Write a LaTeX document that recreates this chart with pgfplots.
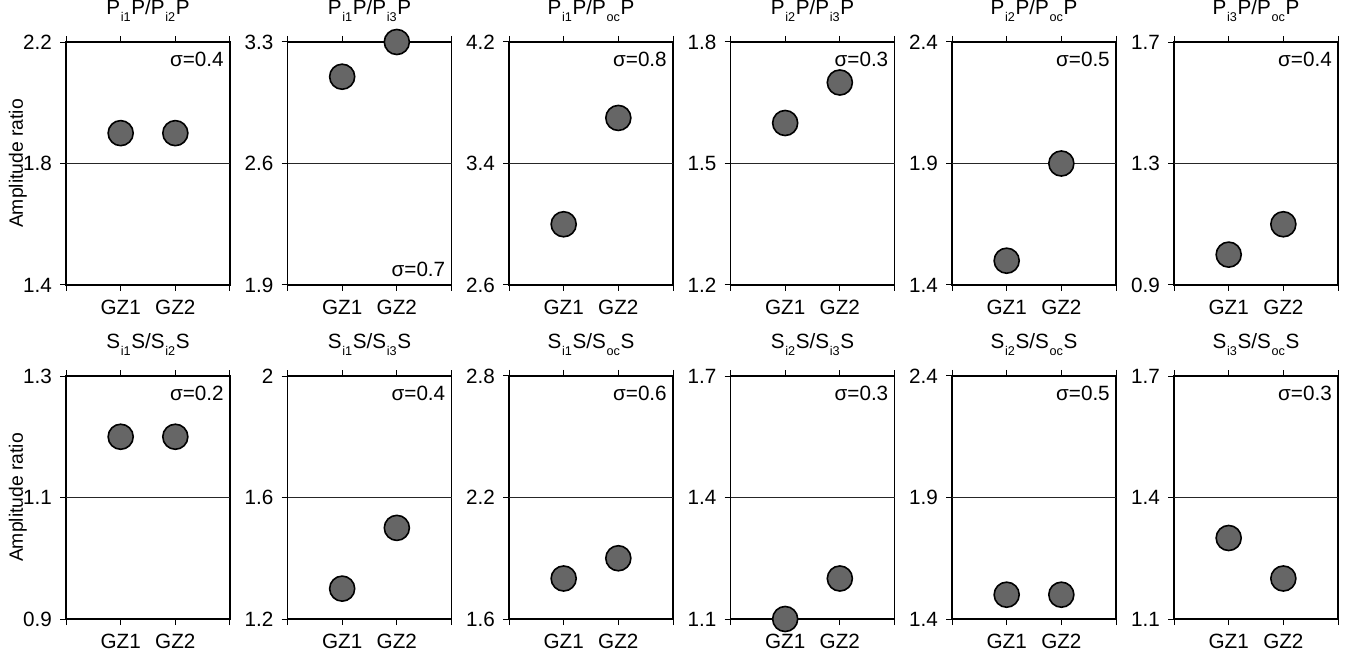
\documentclass[border=0pt]{standalone}
\usepackage{fontspec}
\setmainfont{Liberation Sans}
\usepackage{pgfplots}
\pgfplotsset{compat=1.18}
\newcommand{\sub}[1]{\hspace{0.5pt}\raisebox{-4.8pt}{\fontsize{9.5}{10}\selectfont #1}\hspace{0.5pt}}
\definecolor{dotgray}{RGB}{102,102,102}
\tikzset{
  sig/.style={anchor=north east, inner sep=0pt, xshift=-4.5pt, yshift=-7pt, font=\fontsize{15.5}{18}\selectfont},
  sigb/.style={anchor=south east, inner sep=0pt, xshift=-4.5pt, yshift=6pt, font=\fontsize{15.5}{18}\selectfont},
  ylab/.style={rotate=90, anchor=center, font=\fontsize{14.5}{17}\selectfont},
}
\pgfplotsset{
  panel/.style={
    scale only axis, width=123pt, height=182.25pt,
    xmin=0, xmax=3, xtick={0,1,2,3}, xticklabels={,GZ1,GZ2,},
    xtick pos=both, xticklabel pos=lower, ytick pos=left,
    tick align=outside, major tick length=4.5pt,
    tick style={line width=0.75pt, black},
    axis line style={line width=1.1pt},
    /pgf/number format/assume math mode=true,
    ticklabel style={font=\fontsize{15.5}{18}\selectfont},
    yticklabel style={xshift=-2.5pt},
    xticklabel style={yshift=-3pt},
    title style={at={(rel axis cs:0.5,1)}, anchor=base, yshift=14.5pt, font=\fontsize{15.5}{18}\selectfont},
    clip=false,
  },
  refline/.style={line width=0.6pt, black!85, forget plot},
  pts/.style={only marks, mark=*, mark size=9.4pt, mark options={fill=dotgray, draw=black, line width=1.2pt}},
}
\begin{document}
\begin{tikzpicture}
\path[use as bounding box] (0,0) rectangle (1013.25pt,495pt);
% ---------------- Row 1 ----------------
\begin{axis}[panel, name=a1, at={(49.5pt,281.25pt)}, ymin=1.4, ymax=2.2, ytick={1.4,1.8,2.2}, yticklabels={1.4,1.8,2.2}, title={P\sub{i1}P/P\sub{i2}P}]
\addplot[refline] coordinates {(0,1.8) (3,1.8)};
\addplot[pts] coordinates {(1,1.9) (2,1.9)};
\node[sig] at (rel axis cs:1,1) {σ=0.4};
\end{axis}
\node[ylab] at ([xshift=-36pt]a1.west) {Amplitude ratio};
\begin{axis}[panel, at={(215.625pt,281.25pt)}, ymin=1.9, ymax=3.3, ytick={1.9,2.6,3.3}, yticklabels={1.9,2.6,3.3}, title={P\sub{i1}P/P\sub{i3}P}]
\addplot[refline] coordinates {(0,2.6) (3,2.6)};
\addplot[pts] coordinates {(1,3.1) (2,3.3)};
\node[sigb] at (rel axis cs:1,0) {σ=0.7};
\end{axis}
\begin{axis}[panel, at={(381.75pt,281.25pt)}, ymin=2.6, ymax=4.2, ytick={2.6,3.4,4.2}, yticklabels={2.6,3.4,4.2}, title={P\sub{i1}P/P\sub{oc}P}]
\addplot[refline] coordinates {(0,3.4) (3,3.4)};
\addplot[pts] coordinates {(1,3.0) (2,3.7)};
\node[sig] at (rel axis cs:1,1) {σ=0.8};
\end{axis}
\begin{axis}[panel, at={(547.875pt,281.25pt)}, ymin=1.2, ymax=1.8, ytick={1.2,1.5,1.8}, yticklabels={1.2,1.5,1.8}, title={P\sub{i2}P/P\sub{i3}P}]
\addplot[refline] coordinates {(0,1.5) (3,1.5)};
\addplot[pts] coordinates {(1,1.6) (2,1.7)};
\node[sig] at (rel axis cs:1,1) {σ=0.3};
\end{axis}
\begin{axis}[panel, at={(714pt,281.25pt)}, ymin=1.4, ymax=2.4, ytick={1.4,1.9,2.4}, yticklabels={1.4,1.9,2.4}, title={P\sub{i2}P/P\sub{oc}P}]
\addplot[refline] coordinates {(0,1.9) (3,1.9)};
\addplot[pts] coordinates {(1,1.5) (2,1.9)};
\node[sig] at (rel axis cs:1,1) {σ=0.5};
\end{axis}
\begin{axis}[panel, at={(880.5pt,281.25pt)}, ymin=0.9, ymax=1.7, ytick={0.9,1.3,1.7}, yticklabels={0.9,1.3,1.7}, title={P\sub{i3}P/P\sub{oc}P}]
\addplot[refline] coordinates {(0,1.3) (3,1.3)};
\addplot[pts] coordinates {(1,1.0) (2,1.1)};
\node[sig] at (rel axis cs:1,1) {σ=0.4};
\end{axis}
% ---------------- Row 2 ----------------
\begin{axis}[panel, name=b1, at={(49.5pt,30.75pt)}, ymin=0.9, ymax=1.3, ytick={0.9,1.1,1.3}, yticklabels={0.9,1.1,1.3}, title={S\sub{i1}S/S\sub{i2}S}]
\addplot[refline] coordinates {(0,1.1) (3,1.1)};
\addplot[pts] coordinates {(1,1.2) (2,1.2)};
\node[sig] at (rel axis cs:1,1) {σ=0.2};
\end{axis}
\node[ylab] at ([xshift=-36pt]b1.west) {Amplitude ratio};
\begin{axis}[panel, at={(215.625pt,30.75pt)}, ymin=1.2, ymax=2.0, ytick={1.2,1.6,2.0}, yticklabels={1.2,1.6,2}, title={S\sub{i1}S/S\sub{i3}S}]
\addplot[refline] coordinates {(0,1.6) (3,1.6)};
\addplot[pts] coordinates {(1,1.3) (2,1.5)};
\node[sig] at (rel axis cs:1,1) {σ=0.4};
\end{axis}
\begin{axis}[panel, at={(381.75pt,30.75pt)}, ymin=1.6, ymax=2.8, ytick={1.6,2.2,2.8}, yticklabels={1.6,2.2,2.8}, title={S\sub{i1}S/S\sub{oc}S}]
\addplot[refline] coordinates {(0,2.2) (3,2.2)};
\addplot[pts] coordinates {(1,1.8) (2,1.9)};
\node[sig] at (rel axis cs:1,1) {σ=0.6};
\end{axis}
\begin{axis}[panel, at={(547.875pt,30.75pt)}, ymin=1.1, ymax=1.7, ytick={1.1,1.4,1.7}, yticklabels={1.1,1.4,1.7}, title={S\sub{i2}S/S\sub{i3}S}]
\addplot[refline] coordinates {(0,1.4) (3,1.4)};
\addplot[pts] coordinates {(1,1.1) (2,1.2)};
\node[sig] at (rel axis cs:1,1) {σ=0.3};
\end{axis}
\begin{axis}[panel, at={(714pt,30.75pt)}, ymin=1.4, ymax=2.4, ytick={1.4,1.9,2.4}, yticklabels={1.4,1.9,2.4}, title={S\sub{i2}S/S\sub{oc}S}]
\addplot[refline] coordinates {(0,1.9) (3,1.9)};
\addplot[pts] coordinates {(1,1.5) (2,1.5)};
\node[sig] at (rel axis cs:1,1) {σ=0.5};
\end{axis}
\begin{axis}[panel, at={(880.5pt,30.75pt)}, ymin=1.1, ymax=1.7, ytick={1.1,1.4,1.7}, yticklabels={1.1,1.4,1.7}, title={S\sub{i3}S/S\sub{oc}S}]
\addplot[refline] coordinates {(0,1.4) (3,1.4)};
\addplot[pts] coordinates {(1,1.3) (2,1.2)};
\node[sig] at (rel axis cs:1,1) {σ=0.3};
\end{axis}
\end{tikzpicture}
\end{document}
